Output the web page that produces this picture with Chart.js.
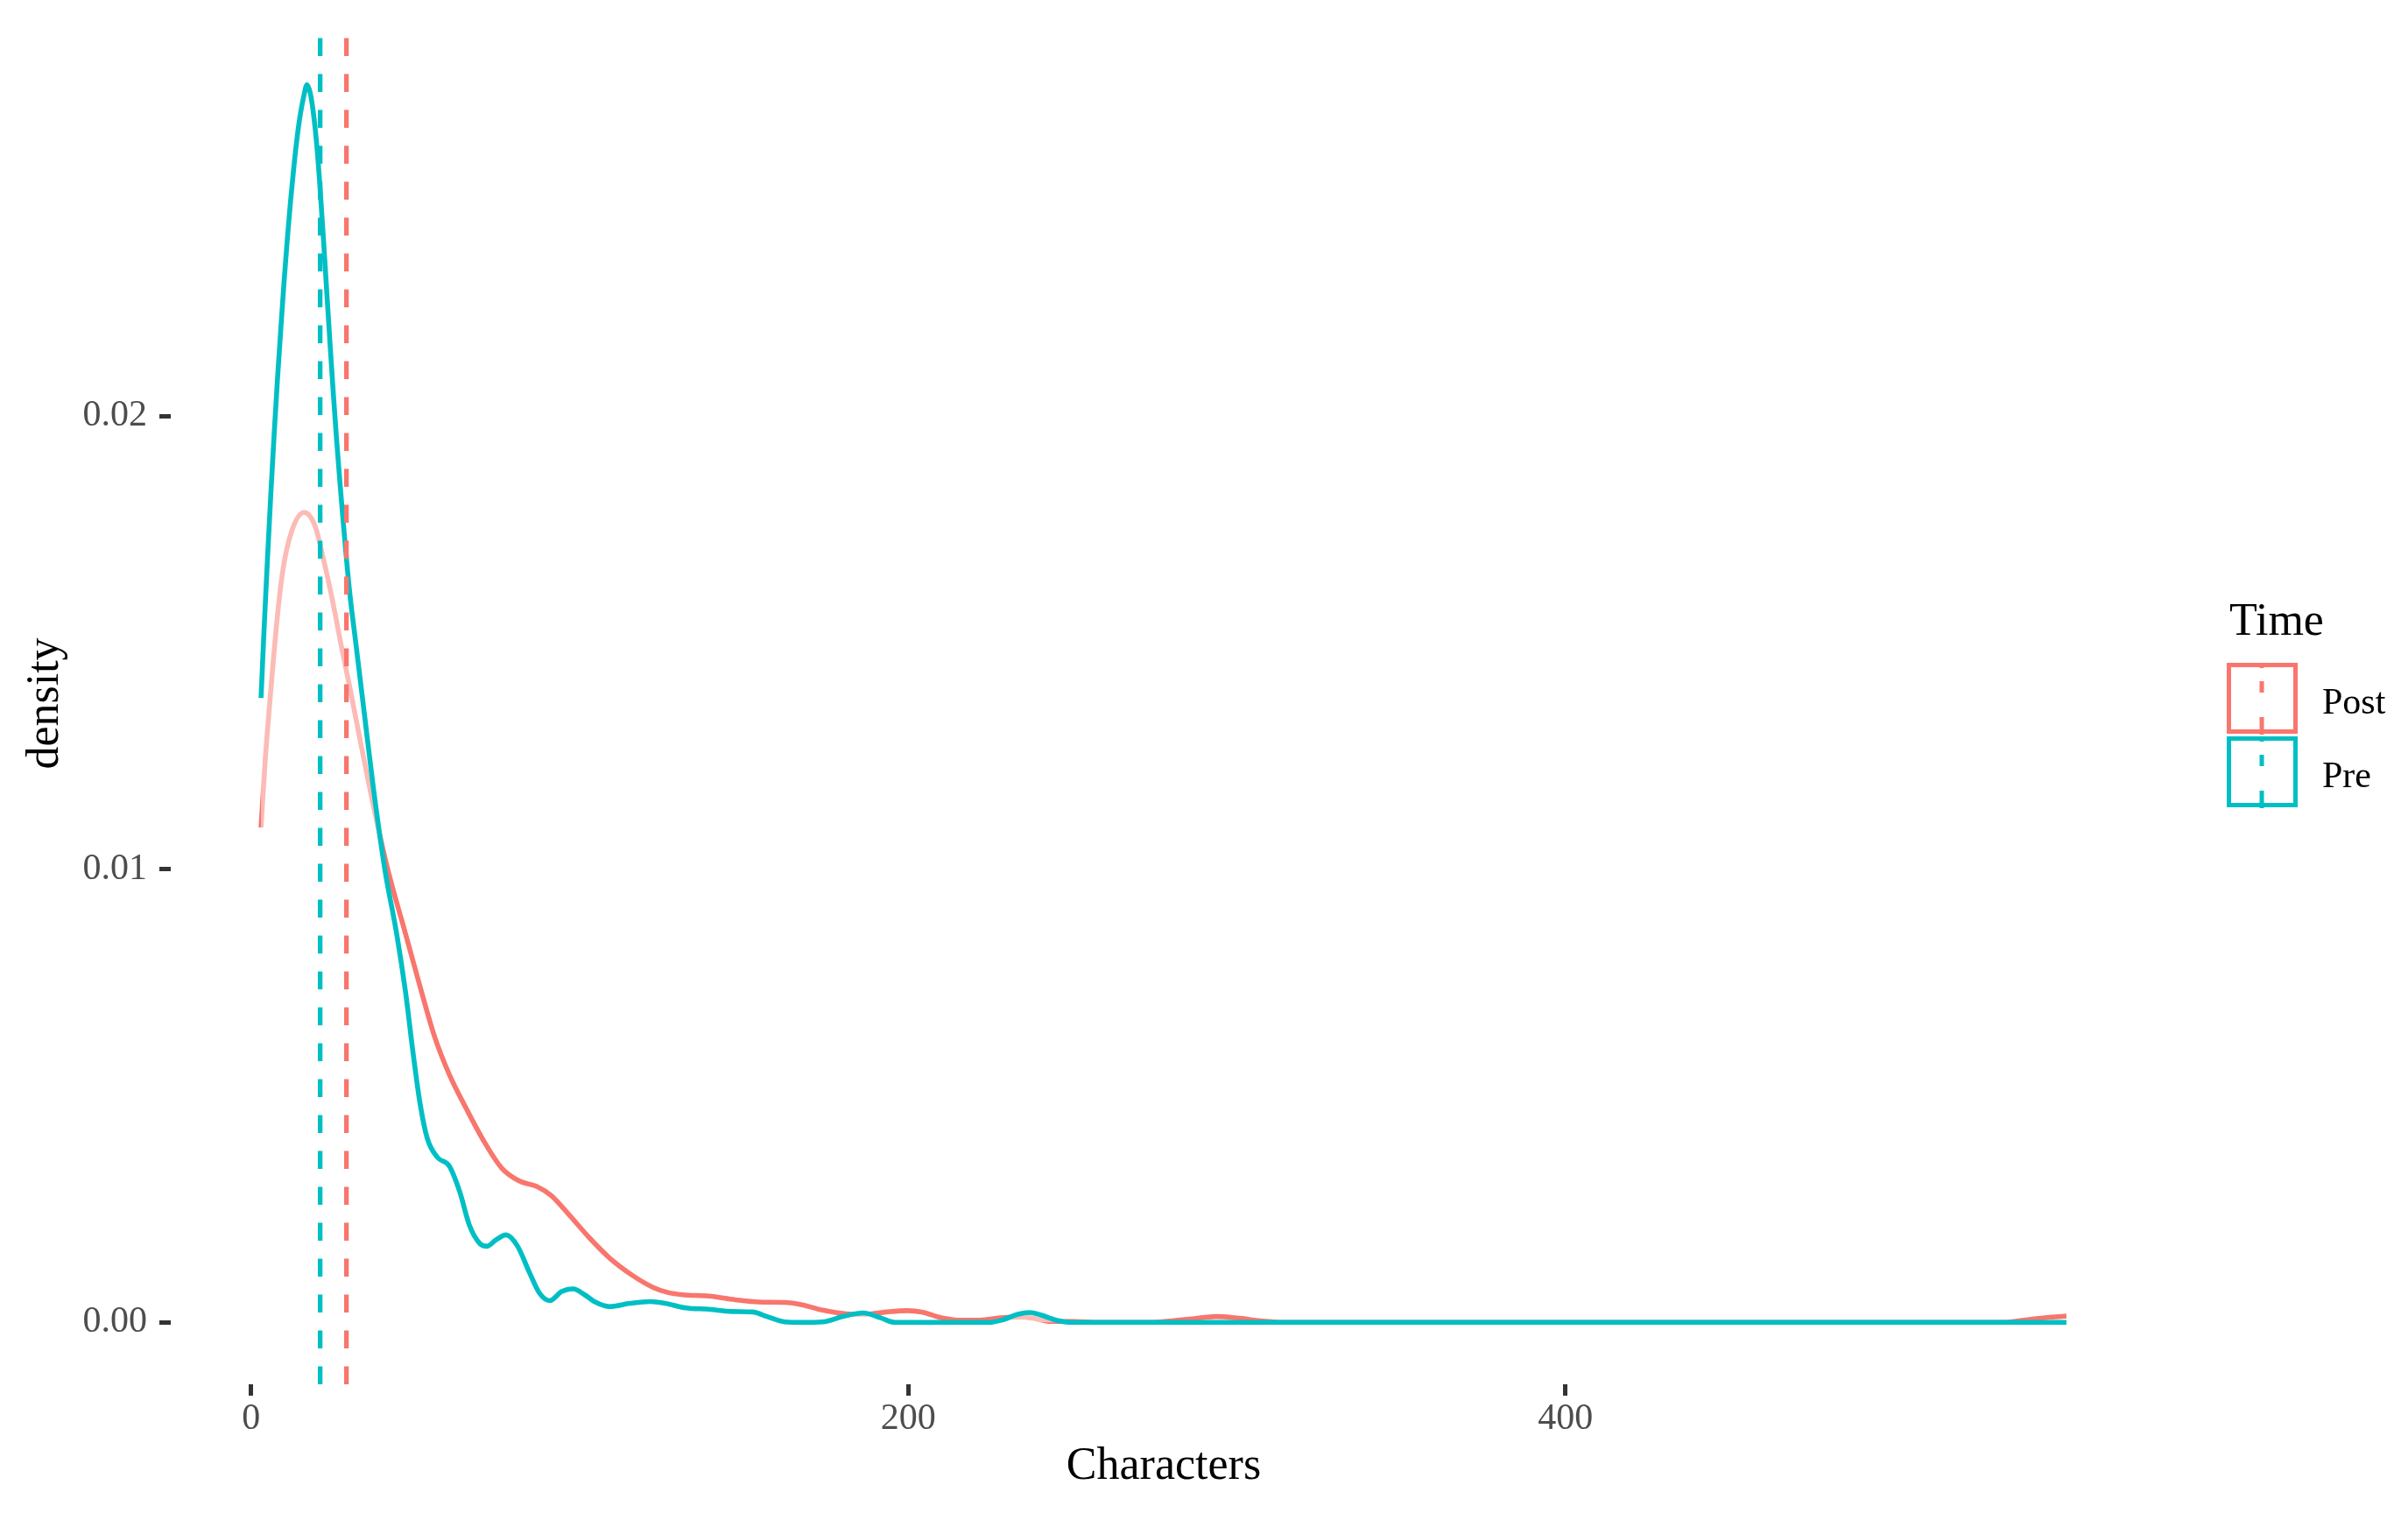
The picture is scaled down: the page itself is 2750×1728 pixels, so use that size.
<!DOCTYPE html>
<html>
<head>
<meta charset="utf-8">
<title>Characters density by Time</title>
<script src="https://cdn.jsdelivr.net/npm/chart.js@4.4.1/dist/chart.umd.min.js"></script>
<style>
  html, body { margin: 0; padding: 0; background: #ffffff; }
  #wrap { width: 2750px; height: 1728px; }
</style>
</head>
<body>
<div id="wrap"><canvas id="densityChart"></canvas></div>
<script>
// groups, colours and the dashed mean lines
const timeGroups = ['Post', 'Pre'];
const groupColors = ['#F8766D', '#00BFC4'];
const groupMeans = [29.0, 21.0];

// density curves
const postChars = [3.0, 4.3, 6.1, 7.9, 9.7, 12.3, 16.1, 19.4, 22.1, 24.8, 27.4, 30.1, 33.6, 37.2, 41.6,
  47.0, 51.4, 55.8, 60.3, 65.6, 70.9, 76.2, 81.6, 86.9, 91.3, 96.7, 102.9, 109.1, 116.2, 122.4,
  126.8, 131.3, 139.3, 147.3, 154.4, 162.4, 167.7, 173.9, 181.0, 187.2, 193.4, 199.7, 204.1, 210.3,
  216.5, 221.8, 228.0, 234.3, 238.7, 243.1, 250.3, 258.0, 274.0, 279.5, 286.6, 293.7, 300.8, 307.9,
  314.1, 532.8, 542.7, 552.5];
const postDensity = [0.01092, 0.01243, 0.01405, 0.01552, 0.01662, 0.01745, 0.01787, 0.01758, 0.01681,
  0.01591, 0.01494, 0.01398, 0.01269, 0.01140, 0.00999, 0.00857, 0.00741, 0.00631, 0.00547, 0.00470,
  0.00399, 0.00341, 0.00312, 0.00300, 0.00280, 0.00238, 0.00187, 0.00142, 0.00103, 0.00077, 0.00066,
  0.00061, 0.00058, 0.00050, 0.00045, 0.00044, 0.00039, 0.00027, 0.00019, 0.00018, 0.00023, 0.00026,
  0.00023, 0.00010, 0.00005, 0.00005, 0.00010, 0.00012, 0.00008, 0.00002, 0.00002, 0, 0, 0.00003,
  0.00008, 0.00013, 0.00009, 0.00003, 0, 0, 0.00008, 0.00014];

const preChars = [3, 4, 5, 6, 7, 8, 9, 10, 11, 12, 13, 14, 15, 16, 17, 18, 19, 20, 21, 22, 23, 24,
  25, 26, 27, 28, 29, 30, 32, 34.5, 37.2, 40.7, 44.3, 47.0, 49.2, 51.4, 53.6, 56.7,
  60.3, 63.4, 66.5, 69.6, 71.8, 74.5, 77.6, 81.1, 84.7, 87.8, 90.9, 94.5, 98.0, 101.5, 104.7, 109.1,
  115.3, 121.5, 126.0, 132.2, 139.3, 146.4, 152.6, 157.0, 162.4, 167.7, 173.9, 180.1, 186.3, 191.6,
  196.0, 224.5, 228.9, 233.4, 236.9, 240.5, 244.9, 250.0, 552.5];
const preDensity = [0.01378, 0.01540, 0.01690, 0.01830, 0.01960, 0.02080, 0.02190, 0.02295, 0.02390,
  0.02475, 0.02550, 0.02615, 0.02667, 0.02705, 0.02731, 0.02712, 0.02665, 0.02595, 0.02500, 0.02390,
  0.02275, 0.02160, 0.02050, 0.01948, 0.01855, 0.01768, 0.01685, 0.01610, 0.01490, 0.01340, 0.01179,
  0.00999, 0.00857, 0.00728, 0.00599, 0.00483, 0.00406, 0.00364,
  0.00345, 0.00290, 0.00213, 0.00174, 0.00168, 0.00182, 0.00193, 0.00168, 0.00110, 0.00064, 0.00048,
  0.00068, 0.00074, 0.00061, 0.00045, 0.00035, 0.00042, 0.00046, 0.00042, 0.00032, 0.00029, 0.00024,
  0.00023, 0.00013, 0.00001, 0, 0.00001, 0.00013, 0.00021, 0.00010, 0, 0, 0.00006, 0.00018, 0.00022,
  0.00016, 0.00005, 0, 0];

const xTicks = [0, 200, 400];
const yTicks = [0, 0.01, 0.02];
const yTickLabels = ['0.00', '0.01', '0.02'];

// ggplot style 5% expansion of the data range
const allChars = postChars.concat(preChars);
const xLo = Math.min(...allChars), xHi = Math.max(...allChars);
const xPad = (xHi - xLo) * 0.05;
const yHi = Math.max(...postDensity, ...preDensity);
const yPad = yHi * 0.05;

const serif = '"Liberation Serif", "Times New Roman", serif';
const toPoints = (xs, ys) => xs.map((x, i) => ({ x: x, y: ys[i] }));

const datasets = [];
// mean lines on top
timeGroups.forEach((name, i) => {
    datasets.push({
        label: name + ' mean',
        data: [{ x: groupMeans[i], y: -yPad }, { x: groupMeans[i], y: yHi + yPad }],
        borderColor: groupColors[i],
        borderWidth: 5.3,
        borderDash: [20.5, 20.5],
        borderCapStyle: 'butt',
        pointRadius: 0,
        fill: false,
        order: 0
    });
});
datasets.push({
    label: 'Pre',
    data: toPoints(preChars, preDensity),
    borderColor: groupColors[1],
    backgroundColor: 'rgba(255,255,255,0.5)',
    fill: 'origin',
    borderWidth: 5.6,
    pointRadius: 0,
    cubicInterpolationMode: 'monotone',
    order: 1
});
datasets.push({
    label: 'Post',
    data: toPoints(postChars, postDensity),
    borderColor: groupColors[0],
    fill: false,
    borderWidth: 5.6,
    pointRadius: 0,
    cubicInterpolationMode: 'monotone',
    order: 2
});

// legend box on the right, ggplot style
const timeLegend = {
    id: 'timeLegend',
    afterDraw(chart) {
        const ctx = chart.ctx;
        ctx.save();
        ctx.fillStyle = '#000000';
        ctx.textBaseline = 'alphabetic';
        ctx.font = '52px ' + serif;
        ctx.fillText('Time', 2546, 725);
        timeGroups.forEach((name, i) => {
            const top = 757 + i * 84;
            ctx.strokeStyle = groupColors[i];
            ctx.lineWidth = 5;
            ctx.setLineDash([]);
            ctx.strokeRect(2545.5, top + 2.5, 76, 76);
            ctx.beginPath();
            [[0, 6], [21, 34], [62, 82]].forEach(([a, b]) => {
                ctx.moveTo(2583, top + a);
                ctx.lineTo(2583, top + b);
            });
            ctx.stroke();
            ctx.font = '42px ' + serif;
            ctx.fillText(name, 2652, top + 58);
        });
        ctx.restore();
    }
};

const ctx = document.getElementById('densityChart').getContext('2d');
const densityChart = new Chart(ctx, {
    type: 'line',
    data: { datasets: datasets },
    options: {
        responsive: true,
        maintainAspectRatio: false,
        animation: false,
        events: [],
        layout: { padding: { top: 26, right: 287, bottom: 0, left: 0 } },
        plugins: {
            legend: { display: false },
            tooltip: { enabled: false }
        },
        scales: {
            x: {
                type: 'linear',
                min: xLo - xPad,
                max: xHi + xPad,
                afterBuildTicks: (s) => { s.ticks = xTicks.map(v => ({ value: v })); },
                afterFit: (s) => { s.height = 147; s.paddingLeft = 0; s.paddingRight = 0; },
                ticks: {
                    autoSkip: false,
                    maxRotation: 0,
                    padding: 2,
                    color: '#4D4D4D',
                    font: { family: serif, size: 42 },
                    callback: (v) => String(v)
                },
                grid: {
                    display: true,
                    drawOnChartArea: false,
                    drawTicks: true,
                    tickLength: 13,
                    tickWidth: 5,
                    tickColor: '#333333'
                },
                border: { display: false },
                title: {
                    display: true,
                    text: 'Characters',
                    color: '#000000',
                    font: { family: serif, size: 52 },
                    padding: { top: 0, bottom: 21 }
                }
            },
            y: {
                type: 'linear',
                min: -yPad,
                max: yHi + yPad,
                afterBuildTicks: (s) => { s.ticks = yTicks.map(v => ({ value: v })); },
                afterFit: (s) => { s.width = 195; s.paddingTop = 0; s.paddingBottom = 0; },
                ticks: {
                    padding: 14,
                    color: '#4D4D4D',
                    font: { family: serif, size: 42 },
                    callback: (v) => yTickLabels[yTicks.indexOf(v)]
                },
                grid: {
                    display: true,
                    drawOnChartArea: false,
                    drawTicks: true,
                    tickLength: 13,
                    tickWidth: 5,
                    tickColor: '#333333'
                },
                border: { display: false },
                title: {
                    display: true,
                    text: 'density',
                    color: '#000000',
                    font: { family: serif, size: 52 },
                    padding: { top: 21, bottom: 0 }
                }
            }
        }
    },
    plugins: [timeLegend]
});
</script>
</body>
</html>
